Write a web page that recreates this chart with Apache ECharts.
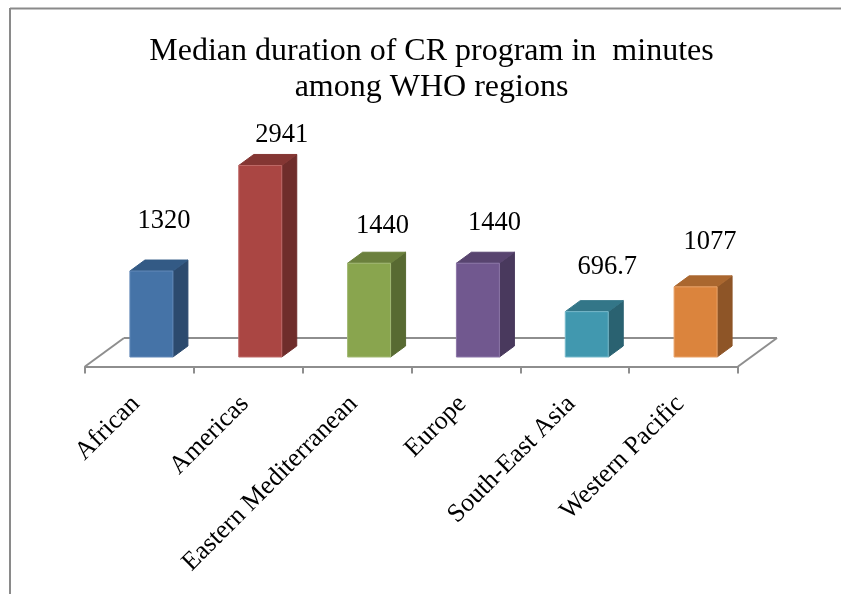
<!DOCTYPE html>
<html>
<head>
<meta charset="utf-8">
<style>
  html, body { margin: 0; padding: 0; background: #fff; }
  #chart { width: 841px; height: 594px; }
</style>
<script src="https://cdn.jsdelivr.net/npm/echarts@6/dist/echarts.min.js"></script>
</head>
<body>
<div id="chart"></div>
<script>
const titleText = 'Median duration of CR program in  minutes\namong WHO regions'
const regions = ['African', 'Americas', 'Eastern Mediterranean', 'Europe', 'South-East Asia', 'Western Pacific']
const durations = [1320, 2941, 1440, 1440, 696.7, 1077]
const valueLabels = ['1320', '2941', '1440', '1440', '696.7', '1077']

// front, top, side
const faceColors = [
    ['#4573a7', '#335a85', '#2c4a6e'],
    ['#aa4643', '#843633', '#6f2d2b'],
    ['#89a54e', '#6b803d', '#586a32'],
    ['#71588f', '#58446f', '#49395d'],
    ['#4198af', '#337688', '#2a6271'],
    ['#db843d', '#aa672f', '#8e5527'],
]
const edgeColors = ['#6389b8', '#bf6a68', '#a2b975', '#8c76a8', '#78bacb', '#e9a268']

// the labels were placed by hand in the original, so they sit off the bars by different amounts
const labelShift = [[5, -39], [14, -19], [6, -26], [9, -29], [13, -34], [7, -34]]

const floorDepth = [39, -28.5]   // how far the back of the floor sits from the axis
const barInset = [12, -9.5]      // bar base, measured from the axis
const barDepth = [15, -11]
const barWidth = 43
const axisColor = '#8e8e8e'

const renderFloor = (params, api) => {
    const left = api.coord([0, 0])[0] - api.size([1, 0])[0] / 2
    const right = left + api.size([1, 0])[0] * regions.length
    const y = api.coord([0, 0])[1]
    const backY = y + floorDepth[1]
    const style = { stroke: axisColor, lineWidth: 2, fill: null }
    const line = (x1, y1, x2, y2) => ({
        type: 'line',
        shape: { x1, y1, x2, y2 },
        style,
    })
    return {
        type: 'group',
        children: [
            line(left, y, left + floorDepth[0], backY),
            line(left + floorDepth[0], backY, right + floorDepth[0], backY),
            line(right + floorDepth[0], backY, right, y),
        ],
    }
}

const renderBar = (params, api) => {
    const i = params.dataIndex
    const base = api.coord([i, 0])
    const top = api.coord([i, api.value(1)])
    const x0 = base[0] + barInset[0] - barWidth / 2
    const x1 = x0 + barWidth
    const yb = base[1] + barInset[1]
    const yt = top[1] + barInset[1]
    const dx = barDepth[0]
    const dy = barDepth[1]
    const colors = faceColors[i]
    const face = (points, fill, stroke) => ({
        type: 'polygon',
        shape: { points },
        style: { fill, stroke: stroke || fill, lineWidth: 1 },
    })
    return {
        type: 'group',
        children: [
            face([[x1, yb], [x1 + dx, yb + dy], [x1 + dx, yt + dy], [x1, yt]], colors[2]),
            face([[x0, yt], [x1, yt], [x1 + dx, yt + dy], [x0 + dx, yt + dy]], colors[1]),
            face([[x0, yb], [x1, yb], [x1, yt], [x0, yt]], colors[0], edgeColors[i]),
            {
                type: 'text',
                style: {
                    x: (x0 + x1) / 2 + dx / 2 + labelShift[i][0],
                    y: yt + dy + labelShift[i][1],
                    text: valueLabels[i],
                    fill: '#000',
                    font: '26.5px "Liberation Serif"',
                    align: 'center',
                    verticalAlign: 'middle',
                },
            },
        ],
    }
}

const chart = echarts.init(document.getElementById('chart'), null, { renderer: 'canvas' })

chart.setOption({
    animation: false,
    backgroundColor: '#fff',
    title: {
        text: titleText,
        left: 426.5,
        top: 29,
        textAlign: 'center',
        textStyle: {
            fontFamily: 'Liberation Serif',
            fontSize: 32,
            fontWeight: 'normal',
            color: '#000',
            lineHeight: 36,
        },
    },
    grid: { left: 85, right: 103, top: 106, bottom: 227.5, containLabel: false },
    xAxis: {
        type: 'category',
        data: regions,
        axisLine: { show: true, onZero: true, lineStyle: { color: axisColor, width: 2 } },
        axisTick: { show: true, length: 7, lineStyle: { color: axisColor, width: 2 } },
        axisLabel: {
            interval: 0,
            rotate: 45,
            margin: 30,
            padding: [0, 5, 0, 0],
            fontFamily: 'Liberation Serif',
            fontSize: 26,
            color: '#000',
        },
    },
    yAxis: { type: 'value', min: 0, max: 4000, show: false },
    graphic: [
        { type: 'line', shape: { x1: 10, y1: 8.5, x2: 841, y2: 8.5 }, style: { stroke: '#8a8a8a', lineWidth: 2 } },
        { type: 'line', shape: { x1: 10, y1: 8, x2: 10, y2: 594 }, style: { stroke: '#8a8a8a', lineWidth: 2 } },
    ],
    series: [
        { type: 'custom', data: [[0, 0]], renderItem: renderFloor, silent: true, clip: false, z: 1 },
        {
            type: 'custom',
            data: durations.map((v, i) => [i, v]),
            encode: { x: 0, y: 1 },
            renderItem: renderBar,
            clip: false,
            z: 2,
        },
    ],
})
</script>
</body>
</html>
